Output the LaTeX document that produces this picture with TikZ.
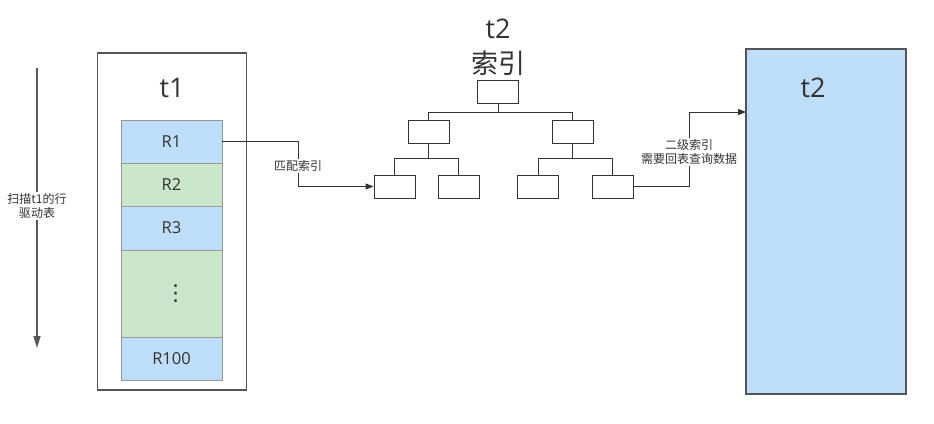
\documentclass[tikz,border=0pt]{standalone}
\usepackage{fontspec}
\setmainfont{Open Sans}
\newfontfamily\cjk{Noto Sans CJK SC}
\newfontfamily\symf{DejaVu Sans}
\usetikzlibrary{arrows.meta}
\definecolor{rowblue}{HTML}{BDDDF8}
\definecolor{rowgreen}{HTML}{C9E6CA}
\definecolor{txt}{HTML}{333333}
\definecolor{edge}{HTML}{555555}
\begin{document}
\begin{tikzpicture}[x=1pt,y=-1pt,
  outer/.style={draw=edge, line width=1.4pt, rectangle, inner sep=0pt},
  rowcell/.style={draw=black!40, line width=0.8pt, rectangle, inner sep=0pt, minimum width=101pt, font=\fontsize{16.5}{18}\selectfont, text=txt},
  treebox/.style={draw=txt, line width=1pt, rectangle, inner sep=0pt, minimum width=41pt, minimum height=23pt, fill=white},
  tline/.style={draw=txt, line width=1pt},
  conn/.style={draw=txt, line width=1pt, -{Triangle[length=8pt,width=6pt]}},
  lbl/.style={font=\cjk\fontsize{12}{14}\selectfont, fill=white, inner sep=1pt, align=center, text=txt},
  big/.style={font=\fontsize{27}{35}\selectfont, text=txt, align=center}]
\useasboundingbox (0,0) rectangle (934,423);

% scan arrow
\coordinate (scanTop) at (37,68);
\coordinate (scanBot) at (37,348);
\draw[draw=black!65, line width=1.6pt, -{Triangle[length=12pt,width=7pt]}] (scanTop) -- (scanBot);
\node[lbl] (scanlbl) at (37,206) {扫描t1的行\\驱动表};

% t1 table
\node[outer, minimum width=149pt, minimum height=337pt] (t1) at (172,221.5) {};
\node[big] (t1lbl) at (172,88) {t1};
\node[rowcell, fill=rowblue, minimum height=43pt] (r1) at (171.5,141.5) {R1};
\node[rowcell, fill=rowgreen, minimum height=43pt] (r2) at (171.5,184.5) {R2};
\node[rowcell, fill=rowblue, minimum height=44pt] (r3) at (171.5,228) {R3};
\node[rowcell, fill=rowgreen, minimum height=87pt, font=\symf\fontsize{22}{24}\selectfont] (rdots) at (171.5,293.5) {\hspace*{8pt}⋮};
\node[rowcell, fill=rowblue, minimum height=43pt] (r100) at (171.5,358.5) {R100};

% t2 index tree
\node[big] (idxlbl) at (498,47) {t2\\{\cjk 索引}};
\node[treebox] (root) at (498,92) {};
\node[treebox] (na) at (428.5,131.5) {};
\node[treebox] (nb) at (572.5,131.5) {};
\node[treebox] (la) at (394.5,186.5) {};
\node[treebox] (lb) at (458.5,186.5) {};
\node[treebox] (lc) at (538,186.5) {};
\node[treebox] (ld) at (612.5,186.5) {};
\draw[tline] (root.south) -- ++(0,8.5) -| (na.north);
\draw[tline] (root.south) -- ++(0,8.5) -| (nb.north);
\draw[tline] (na.south) -- ++(0,15) -| (la.north);
\draw[tline] (na.south) -- ++(0,15) -| (lb.north);
\draw[tline] (nb.south) -- ++(0,15) -| (lc.north);
\draw[tline] (nb.south) -- ++(0,15) -| (ld.north);

% t2 table
\node[outer, fill=rowblue, minimum width=160pt, minimum height=345pt] (t2) at (826,221.5) {};
\node[big] (t2lbl) at (813,88) {t2};
\coordinate (t2in) at (746,112);

% connectors
\draw[conn] (r1.east) -- ++(76,0) |- (la.west);
\node[lbl] (matchlbl) at (298,166) {匹配索引};
\draw[conn] (ld.east) -- ++(56,0) |- (t2in);
\node[lbl] (backlbl) at (689,152) {二级索引\\需要回表查询数据};
\end{tikzpicture}
\end{document}
